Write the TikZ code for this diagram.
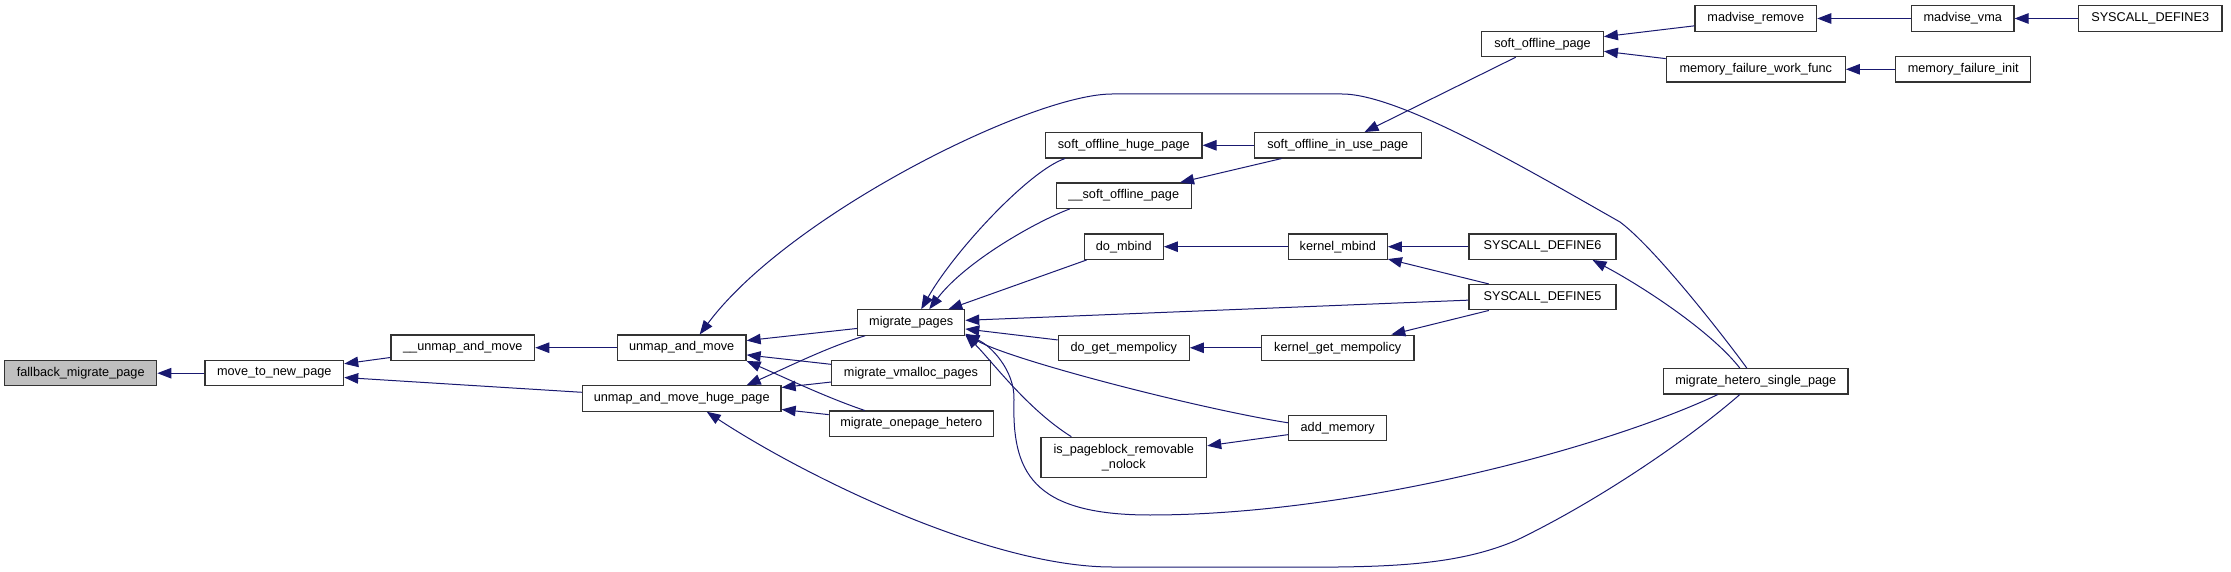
\documentclass[tikz,border=0pt]{standalone}
\usepackage{fontspec}
\setmainfont{Liberation Sans}
\usetikzlibrary{arrows.meta}
\definecolor{midnight}{HTML}{191970}
\definecolor{nodeborder}{HTML}{333333}
\definecolor{hilite}{HTML}{BFBFBF}
\begin{document}
\begin{tikzpicture}[x=1pt,y=-1pt,
  fn/.style={draw=nodeborder, line width=1.2pt, fill=white, inner sep=0pt,
    minimum height=25.3pt, font=\fontsize{12.7}{15}\selectfont, text=black},
  cg/.style={draw=midnight, line width=1pt, -{Triangle[length=14pt,width=10.5pt]}}]
\useasboundingbox (0,0) rectangle (2231,572);

% nodes
\node[fn, fill=hilite, minimum width=152pt] (fallback) at (80.7,373.2) {fallback\_migrate\_page};
\node[fn, minimum width=138.7pt] (movepage) at (274.3,373.2) {move\_to\_new\_page};
\node[fn, minimum width=143.7pt] (uamint) at (462.8,347.7) {\_\_unmap\_and\_move};
\node[fn, minimum width=128.7pt] (uam) at (681.7,347.7) {unmap\_and\_move};
\node[fn, minimum width=198.7pt] (huge) at (681.7,398.5) {unmap\_and\_move\_huge\_page};
\node[fn, minimum width=107pt] (mp) at (911.2,322.5) {migrate\_pages};
\node[fn, minimum width=158.6pt] (vmalloc) at (911,373.2) {migrate\_vmalloc\_pages};
\node[fn, minimum width=164pt] (onepage) at (911.3,423.7) {migrate\_onepage\_hetero};
\node[fn, minimum width=156.3pt] (sohp) at (1123.8,145.3) {soft\_offline\_huge\_page};
\node[fn, minimum width=135pt] (sopint) at (1123.8,195.7) {\_\_soft\_offline\_page};
\node[fn, minimum width=79pt] (dombind) at (1123.8,246.7) {do\_mbind};
\node[fn, minimum width=131pt] (dogmp) at (1123.8,347.8) {do\_get\_mempolicy};
\node[fn, minimum width=165.7pt, minimum height=40pt, align=center] (ispb) at (1123.8,457.3) {is\_pageblock\_removable\\\_nolock};
\node[fn, minimum width=167pt] (soiup) at (1337.8,145.3) {soft\_offline\_in\_use\_page};
\node[fn, minimum width=99pt] (kmbind) at (1337.8,246.7) {kernel\_mbind};
\node[fn, minimum width=152.7pt] (kgmp) at (1337.7,347.8) {kernel\_get\_mempolicy};
\node[fn, minimum width=98pt] (addmem) at (1337.7,427.8) {add\_memory};
\node[fn, minimum width=121.6pt] (sop) at (1542.5,44) {soft\_offline\_page};
\node[fn, minimum width=147pt] (sdsix) at (1542.5,246.7) {SYSCALL\_DEFINE6};
\node[fn, minimum width=147pt] (sdfive) at (1542.5,297.2) {SYSCALL\_DEFINE5};
\node[fn, minimum width=184.3pt] (mhsp) at (1755.8,381.3) {migrate\_hetero\_single\_page};
\node[fn, minimum width=121.7pt] (madrem) at (1755.8,18.5) {madvise\_remove};
\node[fn, minimum width=179pt] (mfwf) at (1755.8,69.3) {memory\_failure\_work\_func};
\node[fn, minimum width=102.3pt] (madvma) at (1962.8,18.5) {madvise\_vma};
\node[fn, minimum width=135pt] (mfinit) at (1963.2,69.3) {memory\_failure\_init};
\node[fn, minimum width=143.7pt] (sdthree) at (2150.2,18.5) {SYSCALL\_DEFINE3};

% edges
\draw[cg] (movepage) -- (fallback);
\draw[cg] (uamint) -- (movepage);
\draw[cg] (huge) -- (movepage);
\draw[cg] (uam) -- (uamint);
\draw[cg] (mp) -- (uam);
\draw[cg] (vmalloc) -- (uam);
\draw[cg] ([xshift=36pt]onepage.north west) .. controls (828,398) and (790,380) .. (uam.south east);
\draw[cg] ([xshift=8pt]mp.south west) .. controls (828,347) and (790,366) .. ([xshift=65pt]huge.north);
\draw[cg] (vmalloc) -- (huge);
\draw[cg] (onepage) -- (huge);
\draw[cg] ([xshift=-9pt]mhsp.north) .. controls (1725,338) and (1655,248) .. (1620,222)
   .. controls (1530,171) and (1400,94) .. (1342,94) -- (1112,94)
   .. controls (1032,94) and (788.5,215) .. ([xshift=18pt]uam.north);
\draw[cg] ([xshift=-16pt]mhsp.south) .. controls (1690,438) and (1600,500) .. (1517,540)
   .. controls (1445,571) and (1360,567) .. (1230,567) -- (1112,567)
   .. controls (990,567) and (806,477) .. ([xshift=25pt]huge.south);
\draw[cg] ([xshift=-38pt]mhsp.south) .. controls (1600,450) and (1350,515) .. (1150,515)
   .. controls (1030,515) and (1012,470) .. (1014,400)
   .. controls (1015,370) and (990,345) .. ([yshift=1pt]mp.south east);
\draw[cg] ([xshift=31pt]ispb.north west) .. controls (1027,409) and (991,360) .. ([yshift=1pt]mp.south east);
\draw[cg] ([yshift=5pt]addmem.west) .. controls (1200,409) and (1010,360) .. ([yshift=2pt]mp.south east);
\draw[cg] (dogmp) -- (mp);
\draw[cg] (sdfive) -- (mp);
\draw[cg] (sdfive) -- (kmbind);
\draw[cg] (sdfive) -- (kgmp);
\draw[cg] (sdsix) -- (kmbind);
\draw[cg] (kmbind) -- (dombind);
\draw[cg] (kgmp) -- (dogmp);
\draw[cg] (dombind) -- (mp);
\draw[cg] ([xshift=20pt]sohp.south west) .. controls (1030,170) and (955,250) .. ([xshift=10pt]mp.north);
\draw[cg] ([xshift=14pt]sopint.south west) .. controls (1035,222) and (965,262) .. ([xshift=18pt]mp.north);
\draw[cg] (soiup) -- (sohp);
\draw[cg] (soiup) -- (sopint);
\draw[cg] (sop) -- (soiup);
\draw[cg] (madrem) -- (sop);
\draw[cg] (mfwf) -- (sop);
\draw[cg] (madvma) -- (madrem);
\draw[cg] (sdthree) -- (madvma);
\draw[cg] (mfinit) -- (mfwf);
\draw[cg] ([xshift=-16pt]mhsp.north) .. controls (1710,330) and (1640,285) .. ([xshift=50pt]sdsix.south);
\draw[cg] (addmem) -- (ispb);
\end{tikzpicture}
\end{document}
